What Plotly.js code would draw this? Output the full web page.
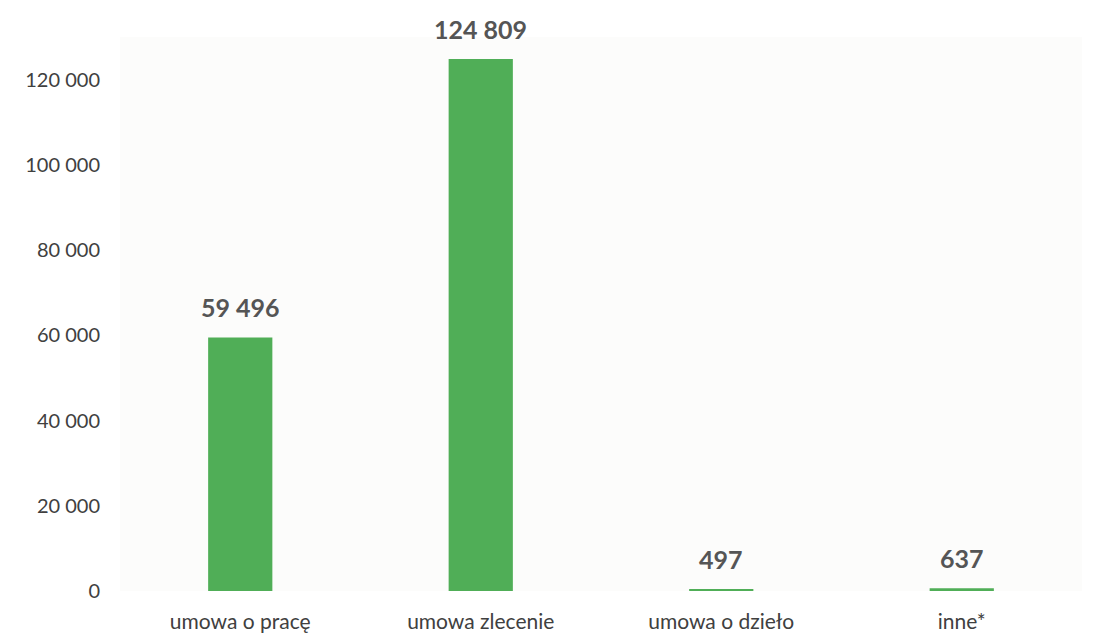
<!DOCTYPE html>
<html>
<head>
<meta charset="utf-8">
<script src="https://cdn.plot.ly/plotly-3.0.1.min.js"></script>
<style>html,body{margin:0;padding:0;background:#fff;}#chart{width:1096px;height:634px;}</style>
</head>
<body>
<div id="chart"></div>
<script>
var categories = ["umowa o pracę", "umowa zlecenie", "umowa o dzieło", "inne*"];
var values = [59496, 124809, 497, 637];
var valueLabels = ["59 496", "124 809", "497", "637"];
var yTickVals = [0, 20000, 40000, 60000, 80000, 100000, 120000];
var yTickText = ["0", "20 000", "40 000", "60 000", "80 000", "100 000", "120 000"];

var trace = {
  type: "bar",
  x: categories,
  y: values,
  width: 0.267,
  marker: {color: "#50ae57"},
  hoverinfo: "none"
};

var annotations = categories.map(function (c, i) {
  return {
    x: c, y: values[i], xref: "x", yref: "y",
    text: "<b>" + valueLabels[i] + "</b>",
    showarrow: false, yanchor: "bottom", yshift: 13,
    font: {family: "Lato, 'Open Sans', sans-serif", size: 25, color: "#555555"}
  };
});

var layout = {
  width: 1096, height: 634,
  margin: {l: 120, r: 14, t: 37, b: 43},
  paper_bgcolor: "#ffffff",
  plot_bgcolor: "#fcfcfb",
  showlegend: false,
  font: {family: "Lato, 'Open Sans', sans-serif", color: "#404040"},
  xaxis: {
    type: "category",
    showgrid: false, zeroline: false, showline: false,
    ticks: "outside", ticklen: 12, tickcolor: "rgba(0,0,0,0)",
    tickfont: {size: 21, color: "#404040"}
  },
  yaxis: {
    range: [0, 130000],
    tickvals: yTickVals, ticktext: yTickText,
    showgrid: false, zeroline: false, showline: false,
    ticks: "outside", ticklen: 15, tickcolor: "rgba(0,0,0,0)",
    tickfont: {size: 20, color: "#404040"}
  },
  annotations: annotations
};

Plotly.newPlot("chart", [trace], layout, {displayModeBar: false, staticPlot: true});
</script>
</body>
</html>
